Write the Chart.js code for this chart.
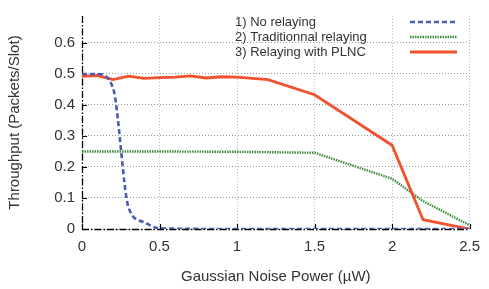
<!DOCTYPE html>
<html><head><meta charset="utf-8">
<script src="https://cdn.jsdelivr.net/npm/chart.js@4/dist/chart.umd.min.js"></script>
<style>html,body{margin:0;padding:0;background:#fff}#wrap{width:489px;height:289px}</style>
</head><body><div id="wrap"><canvas id="c" width="489" height="289"></canvas></div>
<script>
const seriesNames = ["1) No relaying", "2) Traditionnal relaying", "3) Relaying with PLNC"];
const noRelayX = [0, 0.1, 0.2, 0.3, 0.4, 0.5, 1.0, 1.5, 2.0, 2.5];
const noRelayY = [0.5, 0.5, 0.455, 0.07, 0.022, 0.002, 0, 0, 0, 0];
const tradX = [0, 0.5, 1.0, 1.5, 2.0, 2.2, 2.5];
const tradY = [0.25, 0.25, 0.249, 0.246, 0.162, 0.09, 0.012];
const plncX = [0, 0.1, 0.2, 0.3, 0.4, 0.5, 0.6, 0.7, 0.8, 0.9, 1.0, 1.2, 1.5, 2.0, 2.2, 2.5];
const plncY = [0.492, 0.495, 0.482, 0.493, 0.486, 0.488, 0.49, 0.494, 0.487, 0.491, 0.49, 0.482, 0.433, 0.27, 0.03, 0.0];
const xTicks = [0, 0.5, 1, 1.5, 2, 2.5];
const yTicks = [0, 0.1, 0.2, 0.3, 0.4, 0.5, 0.6];
const xTitle = "Gaussian Noise Power (\u00b5W)";
const yTitle = "Throughput (Packets/Slot)";

const pts = (xs, ys) => xs.map((x, i) => ({x, y: ys[i]}));
const FONT = "'Liberation Sans', Arial, sans-serif";
const TXT = '#333';

const legendPlugin = {
  id: 'customLegend',
  afterDraw(chart) {
    const ctx = chart.ctx;
    ctx.save();
    ctx.font = "13px " + FONT;
    ctx.fillStyle = TXT;
    ctx.textBaseline = 'middle';
    chart.data.datasets.forEach((ds, i) => {
      const y = 22 + i * 15;
      ctx.fillText(ds.label, 235, y);
      ctx.beginPath();
      ctx.strokeStyle = ds.borderColor;
      ctx.lineWidth = ds.borderWidth;
      ctx.setLineDash(ds.borderDash || []);
      ctx.moveTo(410, y);
      ctx.lineTo(457, y);
      ctx.stroke();
    });
    ctx.restore();
  }
};

const axisPlugin = {
  id: 'axes',
  beforeDatasetsDraw(chart) {
    const ctx = chart.ctx, x = chart.scales.x, y = chart.scales.y, a = chart.chartArea;
    ctx.save();
    ctx.strokeStyle = '#000';
    ctx.lineWidth = 1.3;
    ctx.setLineDash([7, 2, 1.5, 2]);
    ctx.beginPath();
    ctx.moveTo(a.left + 0.5, a.top); ctx.lineTo(a.left + 0.5, a.bottom);
    ctx.moveTo(a.left, a.bottom + 0.5); ctx.lineTo(a.right, a.bottom + 0.5);
    ctx.stroke();
    ctx.setLineDash([]);
    ctx.lineWidth = 1.2;
    ctx.beginPath();
    y.ticks.forEach(t => {
      const py = Math.round(y.getPixelForValue(t.value)) + 0.5;
      ctx.moveTo(a.left, py); ctx.lineTo(a.left + 5, py);
    });
    x.ticks.forEach(t => {
      const px = Math.round(x.getPixelForValue(t.value)) + 0.5;
      ctx.moveTo(px, a.bottom); ctx.lineTo(px, a.bottom - 5);
    });
    ctx.stroke();
    ctx.restore();
  }
};

new Chart(document.getElementById('c'), {
  type: 'line',
  data: {
    datasets: [
      {label: seriesNames[0], data: pts(noRelayX, noRelayY), borderColor: '#4a5cb0', borderWidth: 2.6, borderDash: [5, 3], cubicInterpolationMode: 'monotone', pointRadius: 0, fill: false, order: 1},
      {label: seriesNames[1], data: pts(tradX, tradY), borderColor: '#3f8f3f', borderWidth: 2.4, borderDash: [1.5, 1], tension: 0, pointRadius: 0, fill: false, order: 3},
      {label: seriesNames[2], data: pts(plncX, plncY), borderColor: '#f2512f', borderWidth: 2.8, tension: 0, pointRadius: 0, fill: false, order: 2}
    ]
  },
  options: {
    responsive: false,
    animation: false,
    devicePixelRatio: 1,
    layout: {padding: {top: 7, right: 14, left: 0, bottom: 0}},
    plugins: {legend: {display: false}, tooltip: {enabled: false}},
    scales: {
      x: {
        type: 'linear', min: 0, max: 2.5,
        afterBuildTicks: s => { s.ticks = xTicks.map(v => ({value: v})); },
        afterFit: s => { s.height = 60; },
        ticks: {color: TXT, font: {family: FONT, size: 15}, padding: 9, maxRotation: 0, callback: v => String(v)},
        grid: {color: '#bbb', lineWidth: 1, drawTicks: false},
        border: {display: false, dash: [1, 2]},
        title: {display: true, text: xTitle, color: TXT, font: {family: FONT, size: 15}, padding: {top: 0, bottom: 3}}
      },
      y: {
        type: 'linear', min: 0, max: 0.687,
        afterBuildTicks: s => { s.ticks = yTicks.map(v => ({value: v})); },
        afterFit: s => { s.width = 82; },
        ticks: {color: TXT, font: {family: FONT, size: 15}, padding: 7, callback: v => String(v)},
        grid: {color: '#999', lineWidth: 1, drawTicks: false},
        border: {display: false, dash: [1, 2]},
        title: {display: true, text: yTitle, color: TXT, font: {family: FONT, size: 15}, padding: {top: 6, bottom: 0}}
      }
    }
  },
  plugins: [legendPlugin, axisPlugin]
});
</script></body></html>
